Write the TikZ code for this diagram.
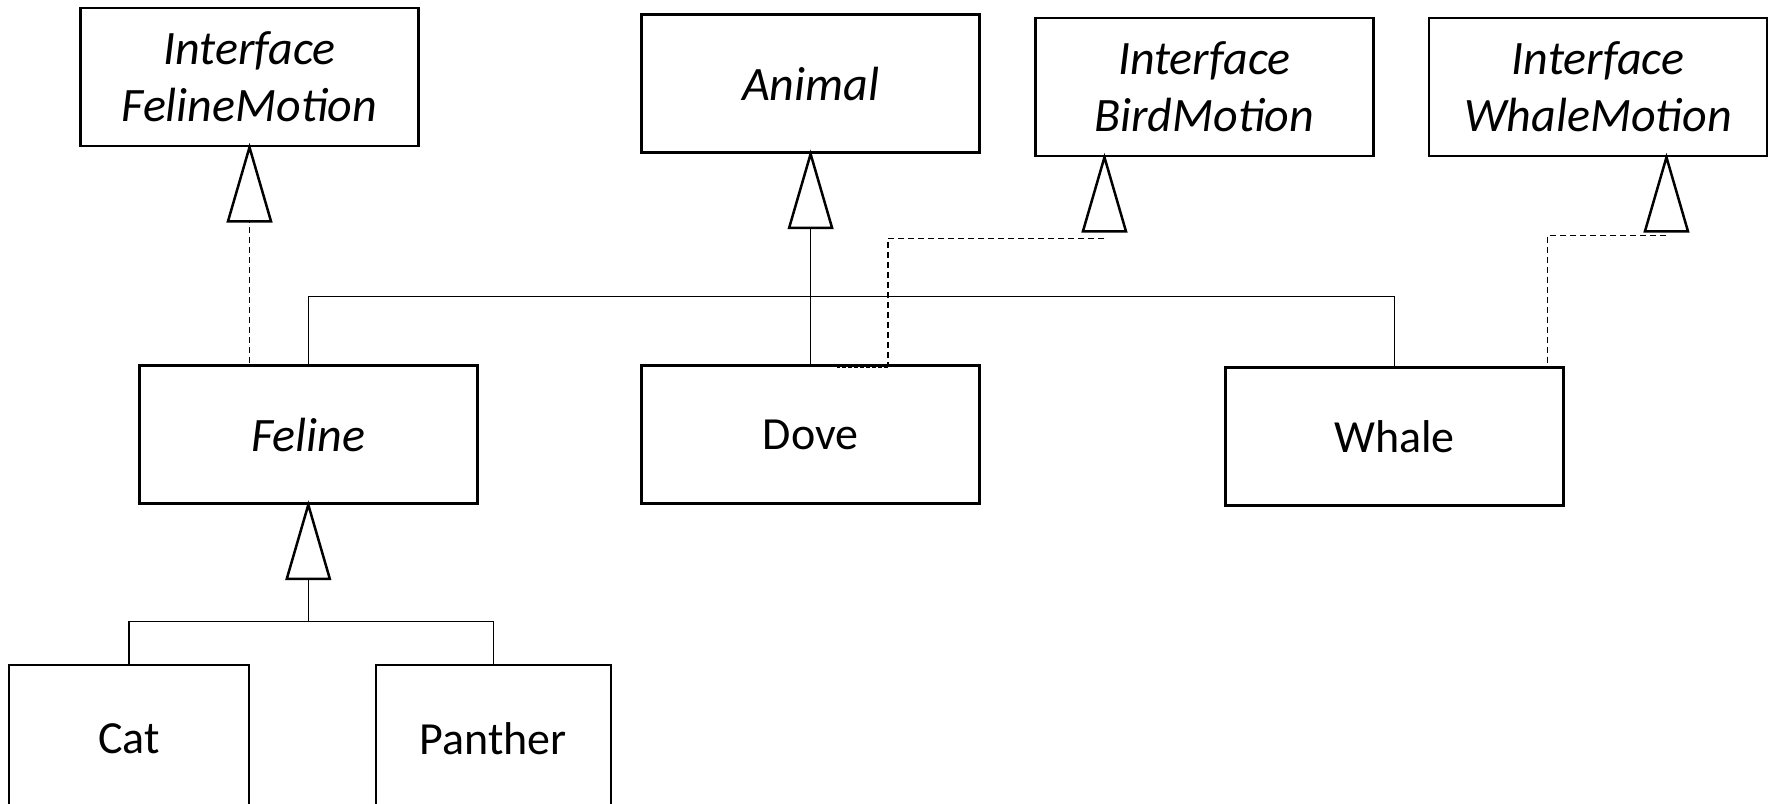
\documentclass[tikz,border=0pt]{standalone}
\usepackage{fontspec}
\setmainfont{Carlito}
\usetikzlibrary{calc}

\tikzset{
  classbox/.style={draw=black, line width=2.5pt, rectangle, inner sep=0pt,
    minimum width=338pt, minimum height=138pt, align=center,
    font=\fontsize{46}{56}\selectfont},
  abstractbox/.style={classbox, font=\fontsize{48}{57}\selectfont\itshape},
  link/.style={draw=black, line width=1.2pt},
  realize/.style={draw=black, line width=1.2pt, dash pattern=on 6pt off 4pt},
  dotrun/.style={draw=black, line width=2.2pt, dash pattern=on 4pt off 2pt},
  hollowtip/.style={draw=black, fill=white, line width=2.5pt, line join=miter},
}

% open generalisation triangle hanging below a box anchor
\newcommand{\hollowtri}[1]{%
  \draw[hollowtip] (#1) -- ++(-21.5,74) -- ++(43,0) -- cycle;}

\begin{document}
\begin{tikzpicture}[x=1pt, y=-1pt]
  \clip (0,0) rectangle (1774,803);
  \fill[white] (0,0) rectangle (1774,803);

  % top row
  \node[abstractbox] (fm)     at (249.5, 77)  {Interface\\FelineMotion};
  \node[abstractbox] (animal) at (810.6, 83.7) {Animal};
  \node[abstractbox] (bm)     at (1204.3, 87) {Interface\\BirdMotion};
  \node[abstractbox] (wm)     at (1598, 87)   {Interface\\WhaleMotion};

  % middle row
  \node[abstractbox] (feline) at (308.3, 434.5) {Feline};
  \node[classbox]    (dove)   at (810.6, 434.5) {Dove};
  \node[classbox]    (whale)  at (1394.4, 436.7) {Whale};

  % bottom row, running past the lower edge
  \node[classbox, minimum width=240pt, minimum height=148pt] (cat)     at (129, 739)   {Cat};
  \node[classbox, minimum width=235pt, minimum height=148pt] (panther) at (493.3, 739) {Panther};

  % anchor points for the interface triangles
  \coordinate (bmtip) at ($(bm.south west)+(70.4,0)$);
  \coordinate (wmtip) at ($(wm.south west)+(238.7,0)$);
  \coordinate (bmbend) at (888, 238.7);
  \coordinate (wmbend) at (1547.8, 235.3);
  \coordinate (bar) at (0, 296.5);

  % inheritance from Animal
  \draw[link] (animal.south) -- (dove.north);
  \draw[link] (feline.north) |- (bar -| whale.north) -- (whale.north);

  % inheritance from Feline
  \draw[link] (feline.south) -- ++(0,116.5) coordinate (fj);
  \draw[link] (cat.north) |- (fj) -| (panther.north);

  % interface realisations
  \draw[realize] (fm.south) -- (fm.south |- feline.north);
  \draw[realize] (bmtip |- bmbend) -- (bmbend) -- (bmbend |- dove.north);
  \draw[dotrun] ($(bmbend |- dove.north)+(0,2.5)$) -- ++(-51,0);
  \draw[realize] (wmtip |- wmbend) -- (wmbend) -- (wmbend |- whale.north);

  % triangles
  \hollowtri{fm.south}
  \hollowtri{animal.south}
  \hollowtri{bmtip}
  \hollowtri{wmtip}
  \hollowtri{feline.south}
\end{tikzpicture}
\end{document}
